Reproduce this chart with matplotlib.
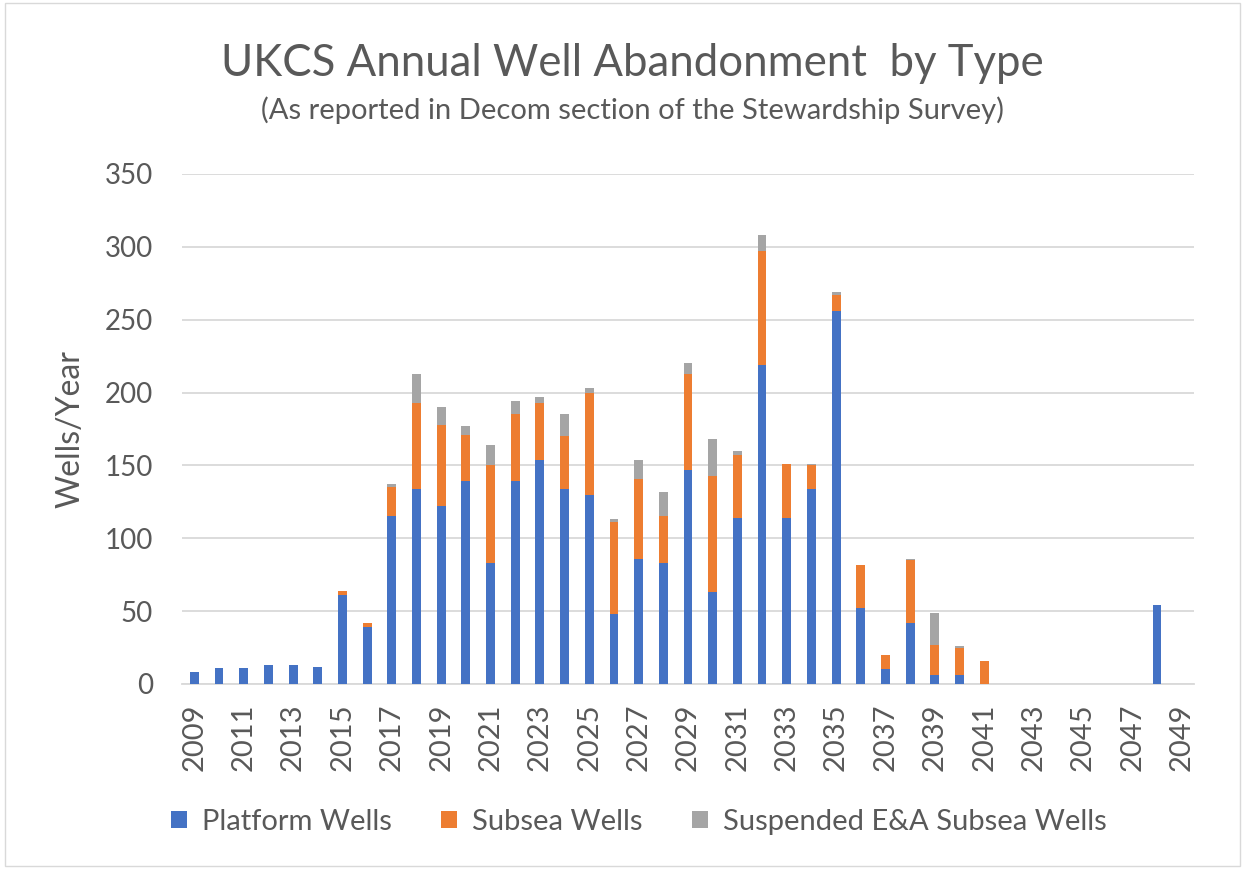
import matplotlib
matplotlib.use("Agg")
import matplotlib.pyplot as plt
import numpy as np

plt.rcParams['font.family'] = ['Lato', 'DejaVu Sans']

years = list(range(2009, 2050))
platform = [8, 11, 11, 13, 13, 12, 61, 39, 115, 134, 122, 139, 83, 139, 154, 134, 130, 48, 86, 83,
            147, 63, 114, 219, 114, 134, 256, 52, 10, 42, 6, 6, 0, 0, 0, 0, 0, 0, 0, 54, 0]
subsea = [0, 0, 0, 0, 0, 0, 3, 3, 20, 59, 56, 32, 67, 46, 39, 36, 70, 63, 55, 32,
          66, 80, 43, 78, 37, 16, 11, 30, 10, 43, 21, 19, 16, 0, 0, 0, 0, 0, 0, 0, 0]
suspended = [0, 0, 0, 0, 0, 0, 0, 0, 2, 20, 12, 6, 14, 9, 4, 15, 3, 2, 13, 17,
             7, 25, 3, 11, 0, 1, 2, 0, 0, 1, 22, 1, 0, 0, 0, 0, 0, 0, 0, 0, 0]
series_names = ["Platform Wells", "Subsea Wells", "Suspended E&A Subsea Wells"]
colors = ["#4472C4", "#ED7D31", "#A5A5A5"]

fig = plt.figure(figsize=(12.45, 8.69), dpi=100)
ax = fig.add_axes([182/1245, 1 - 684/869, (1194-182)/1245, (684-174)/869])

x = np.arange(len(years))
w = 0.36
p = np.array(platform, float)
s = np.array(subsea, float)
e = np.array(suspended, float)
ax.bar(x, p, w, color=colors[0], label=series_names[0], zorder=3)
ax.bar(x, s, w, bottom=p, color=colors[1], label=series_names[1], zorder=3)
ax.bar(x, e, w, bottom=p + s, color=colors[2], label=series_names[2], zorder=3)

ax.set_xlim(-0.5, len(years) - 0.5)
ax.set_ylim(0, 350)
ax.set_yticks(range(0, 351, 50))
ax.set_xticks(x[::2])
ax.set_xticklabels([str(y) for y in years[::2]], rotation=90, fontsize=21, color="#595959")
ax.tick_params(axis='y', labelsize=20, colors="#595959", length=0, pad=21)
ax.tick_params(axis='x', length=0, pad=14)
ax.grid(axis='y', color="#D9D9D9", linewidth=1.3, zorder=0)
for sp in ['top', 'right', 'left']:
    ax.spines[sp].set_visible(False)
ax.spines['bottom'].set_color("#D9D9D9")
ax.spines['bottom'].set_linewidth(1.3)

ax.set_ylabel("Wells/Year", fontsize=23, color="#595959", labelpad=14)

fig.text(0.508, 1 - 63/869, "UKCS Annual Well Abandonment  by Type", ha='center', va='center',
         fontsize=31.5, color="#595959")
fig.text(0.508, 1 - 110/869, "(As reported in Decom section of the Stewardship Survey)", ha='center',
         va='center', fontsize=21, color="#595959")

leg = fig.legend(loc='center', bbox_to_anchor=(0.513, 1 - 822/869), ncol=3, frameon=False,
                 fontsize=21, handlelength=0.55, handleheight=0.55, columnspacing=1.7,
                 handletextpad=0.5, labelcolor="#595959")

fig.patches.append(plt.Rectangle((0.004, 0.004), 0.992, 0.992, transform=fig.transFigure,
                                 fill=False, edgecolor="#D9D9D9", linewidth=1))

fig.savefig("out.png", dpi=100)
